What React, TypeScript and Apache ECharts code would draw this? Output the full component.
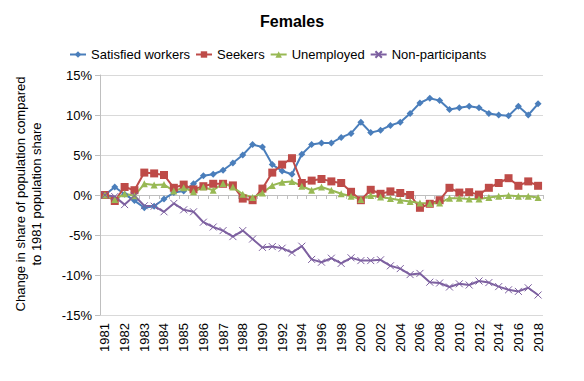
import React, { useEffect, useRef } from "react";
import * as echarts from "echarts";

const categories: string[] = [
  "1981", "1981 H2", "1982", "1982 H2", "1983", "1983 H2", "1984", "1984 H2",
  "1985", "1985 H2", "1986", "1986 H2", "1987", "1987 H2",
  "1988", "1989", "1990", "1991", "1992", "1993", "1994", "1995", "1996", "1997",
  "1998", "1999", "2000", "2001", "2002", "2003", "2004", "2005", "2006", "2007",
  "2008", "2009", "2010", "2011", "2012", "2013", "2014", "2015", "2016", "2017", "2018",
];

const satisfiedWorkers: number[] = [
  0, 1.0, 0.1, -0.7, -1.6, -1.4, -0.5, 0.3, 0.5, 1.4,
  2.4, 2.6, 3.1, 4.0, 5.0, 6.3, 6.0, 3.8, 3.0, 2.6,
  5.1, 6.3, 6.5, 6.5, 7.2, 7.7, 9.1, 7.8, 8.1, 8.7,
  9.1, 10.2, 11.5, 12.1, 11.8, 10.7, 10.9, 11.1, 10.9, 10.2,
  10.0, 9.9, 11.1, 10.0, 11.4,
];

const seekers: number[] = [
  0, -0.75, 1.0, 0.6, 2.8, 2.7, 2.5, 0.9, 1.3, 0.7,
  1.1, 1.4, 1.4, 1.2, -0.45, -0.65, 0.8, 2.8, 3.8, 4.6,
  1.5, 1.8, 2.0, 1.7, 1.5, 0.4, -0.65, 0.65, 0.15, 0.45,
  0.25, 0, -1.6, -1.1, -0.65, 0.9, 0.3, 0.35, 0.05, 0.9,
  1.5, 2.1, 1.15, 1.7, 1.15,
];

const unemployed: number[] = [
  0, -0.55, 0.15, -0.1, 1.4, 1.25, 1.3, 0.5, 0.9, 0.4,
  1.0, 0.6, 1.45, 1.0, 0.1, -0.3, 0.25, 1.2, 1.6, 1.7,
  1.1, 0.6, 1.0, 0.6, 0.15, -0.15, -0.55, -0.05, -0.25, -0.45,
  -0.65, -0.8, -1.0, -1.05, -1.0, -0.4, -0.4, -0.5, -0.5, -0.3,
  -0.15, -0.05, -0.15, -0.15, -0.3,
];

const nonParticipants: number[] = [
  0, -0.2, -1.2, -0.1, -1.35, -1.4, -2.1, -1.05, -1.85, -2.1,
  -3.4, -4.0, -4.45, -5.2, -4.45, -5.5, -6.55, -6.45, -6.65, -7.2,
  -6.4, -8.05, -8.4, -7.9, -8.55, -7.85, -8.2, -8.2, -8.1, -8.85,
  -9.2, -9.95, -9.8, -10.9, -11.0, -11.5, -11.1, -11.25, -10.75, -10.95,
  -11.45, -11.85, -12.05, -11.6, -12.5,
];

const seriesNames = ["Satisfied workers", "Seekers", "Unemployed", "Non-participants"];
const yTicks = { min: -15, max: 15, interval: 5 };
const titleText = "Females";
const yAxisTitle = "Change in share of population compared\nto 1981 population share";

const FONT = "'Liberation Sans', Arial, sans-serif";

export default function App() {
  const ref = useRef<HTMLDivElement>(null);
  useEffect(() => {
    if (!ref.current) return;
    const chart = echarts.init(ref.current, undefined, { renderer: "svg" });
    const colors = ["#4A7EBB", "#BE4B48", "#98B954", "#7D60A0"];
    const symbols = ["diamond", "rect", "triangle", "path://M0,0L10,10M10,0L0,10"];
    const sizes = [7, 8, 7, 7];
    const datas = [satisfiedWorkers, seekers, unemployed, nonParticipants];
    chart.setOption({
      animation: false,
      textStyle: { fontFamily: FONT },
      title: {
        text: titleText,
        left: "center",
        top: 8,
        textStyle: { fontFamily: FONT, fontSize: 16, fontWeight: "bold", color: "#000" },
      },
      legend: {
        top: 43,
        left: 64,
        itemWidth: 16,
        itemHeight: 8,
        itemGap: 5,
        textStyle: { fontFamily: FONT, fontSize: 13, color: "#000" },
        data: seriesNames,
      },
      graphic: [
        {
          type: "text",
          x: 28,
          y: 194,
          rotation: Math.PI / 2,
          style: {
            text: yAxisTitle,
            fontFamily: FONT,
            fontSize: 13,
            lineHeight: 16,
            fill: "#000",
            align: "center",
            verticalAlign: "middle",
          },
        },
      ],
      grid: { left: 100, right: 41, top: 75, bottom: 66 },
      xAxis: [
        {
          type: "category",
          data: categories,
          boundaryGap: true,
          axisLine: { show: false, onZero: false },
          axisTick: { show: false },
          axisLabel: {
            interval: 1,
            rotate: 90,
            margin: 8,
            fontFamily: FONT,
            fontSize: 13,
            color: "#000",
            padding: [6, 0, 0, 0],
            formatter: (v: string) => v.split(" ")[0],
          },
          splitLine: { show: false },
        },
        {
          type: "category",
          data: categories,
          boundaryGap: true,
          position: "bottom",
          axisLine: { show: true, onZero: true, onZeroAxisIndex: 0, lineStyle: { color: "#BFBFBF", width: 1 } },
          axisTick: { show: true, interval: 0, length: 4, lineStyle: { color: "#BFBFBF" } },
          axisLabel: { show: false },
          splitLine: { show: false },
        },
      ],
      yAxis: {
        type: "value",
        min: yTicks.min,
        max: yTicks.max,
        interval: yTicks.interval,
        axisLine: { show: true, lineStyle: { color: "#BFBFBF" } },
        axisTick: { show: true, length: 5, lineStyle: { color: "#BFBFBF" } },
        axisLabel: {
          formatter: "{value}%",
          fontFamily: FONT,
          fontSize: 13,
          color: "#000",
          margin: 8,
        },
        splitLine: { show: true, lineStyle: { color: "#D9D9D9", width: 1 } },
      },
      series: datas.map((d, i) => ({
        name: seriesNames[i],
        type: "line",
        xAxisIndex: 0,
        data: d,
        symbol: symbols[i],
        symbolSize: sizes[i],
        showAllSymbol: true,
        lineStyle: { color: colors[i], width: 2 },
        itemStyle: i === 3
          ? { color: colors[i], borderColor: colors[i], borderWidth: 1 }
          : { color: colors[i] },
        emphasis: { disabled: true },
      })),
    });
    return () => chart.dispose();
  }, []);
  return (
    <div
      ref={ref}
      style={{ position: "fixed", left: 0, top: 0, width: 584, height: 381, background: "#fff" }}
    />
  );
}
